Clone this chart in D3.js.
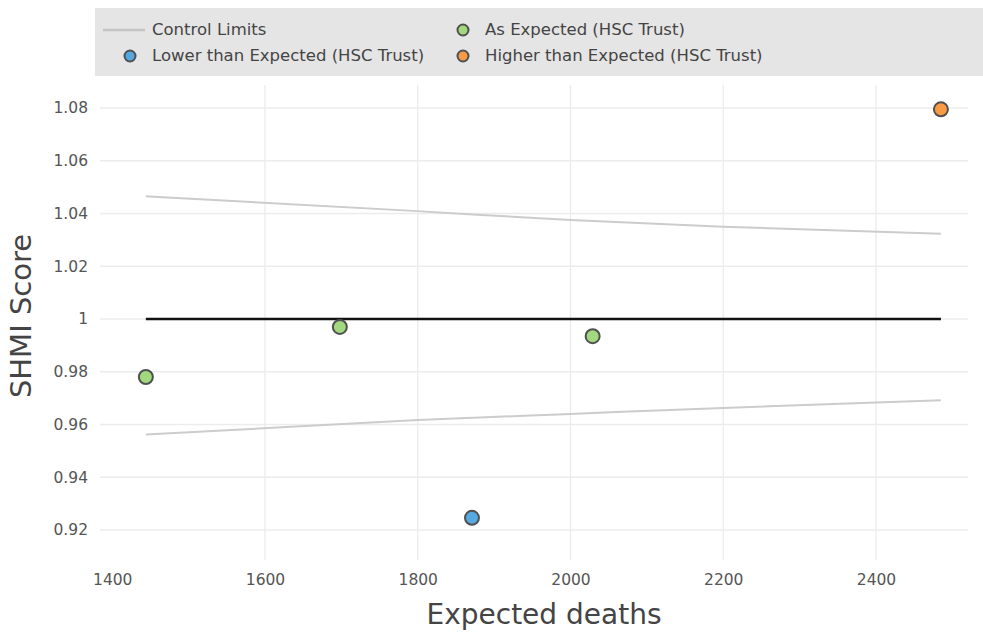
<!DOCTYPE html>
<html>
<head>
<meta charset="utf-8">
<style>
    body { margin: 0; background: #fff; }
    text { font-family: "DejaVu Sans", Verdana, sans-serif; fill: #444; }
    .tick text { font-size: 15.5px; fill: #555; }
    .grid line { stroke: #ececec; stroke-width: 1.3; }
    .legend text { font-size: 16.5px; fill: #444; }
</style>
<script src="https://d3js.org/d3.v7.min.js"></script>
</head>
<body>
<svg width="983" height="634"></svg>
<script>
// trust points
var expected = [1444, 1698, 1871, 2029, 2485];
var shmi = [0.978, 0.997, 0.9246, 0.9935, 1.0795];
var category = ["As", "As", "Lower", "As", "Higher"];

// control limits
var limitX = [1444, 1800, 2000, 2200, 2485];
var upperLimit = [1.0465, 1.0409, 1.0375, 1.035, 1.0323];
var lowerLimit = [0.9562, 0.9617, 0.9640, 0.9663, 0.9692];
var target = 1;

var xTicks = [1400, 1600, 1800, 2000, 2200, 2400];
var yTicks = [0.92, 0.94, 0.96, 0.98, 1, 1.02, 1.04, 1.06, 1.08];

var legendItems = [
    { key: "line", label: "Control Limits" },
    { key: "As", label: "As Expected (HSC Trust)" },
    { key: "Lower", label: "Lower than Expected (HSC Trust)" },
    { key: "Higher", label: "Higher than Expected (HSC Trust)" }
];

var colors = { As: "#a3d97e", Lower: "#55a8e0", Higher: "#f99a45" };

var svg = d3.select("svg");

var x = d3.scaleLinear().domain([1400, 2400]).range([112.25, 876]);
var y = d3.scaleLinear().domain([0.92, 1.08]).range([530, 108]);

var left = 100, right = 968;

// grid
var grid = svg.append("g").attr("class", "grid");
grid.selectAll(".h").data(yTicks).enter().append("line")
    .attr("x1", left).attr("x2", right)
    .attr("y1", function (d) { return y(d); })
    .attr("y2", function (d) { return y(d); });
grid.selectAll(".v").data(xTicks.slice(1)).enter().append("line")
    .attr("x1", function (d) { return x(d); })
    .attr("x2", function (d) { return x(d); })
    .attr("y1", 85).attr("y2", 560);

// axes (labels only)
var yAxis = svg.append("g")
    .attr("transform", "translate(" + left + ",0)")
    .call(d3.axisLeft(y).tickValues(yTicks).tickSize(0).tickPadding(12)
        .tickFormat(function (d) { return String(+d.toFixed(2)); }));
yAxis.select(".domain").remove();

var xAxis = svg.append("g")
    .attr("transform", "translate(0,571)")
    .call(d3.axisBottom(x).tickValues(xTicks).tickSize(0).tickPadding(3)
        .tickFormat(d3.format("d")));
xAxis.select(".domain").remove();

// control limits
var line = d3.line()
    .x(function (d) { return x(d[0]); })
    .y(function (d) { return y(d[1]); })
    .curve(d3.curveMonotoneX);

svg.append("path")
    .datum(d3.zip(limitX, upperLimit))
    .attr("d", line)
    .attr("fill", "none").attr("stroke", "#cccccc").attr("stroke-width", 2);
svg.append("path")
    .datum(d3.zip(limitX, lowerLimit))
    .attr("d", line)
    .attr("fill", "none").attr("stroke", "#cccccc").attr("stroke-width", 2);

svg.append("line")
    .attr("x1", x(limitX[0])).attr("x2", x(limitX[limitX.length - 1]))
    .attr("y1", y(target)).attr("y2", y(target))
    .attr("stroke", "#111").attr("stroke-width", 2.6);

// points
svg.selectAll(".pt")
    .data(d3.range(expected.length))
    .enter().append("circle")
    .attr("cx", function (i) { return x(expected[i]); })
    .attr("cy", function (i) { return y(shmi[i]); })
    .attr("r", 7)
    .attr("fill", function (i) { return colors[category[i]]; })
    .attr("stroke", "#505050")
    .attr("stroke-width", 2);

// axis titles
svg.append("text")
    .attr("transform", "translate(31,316) rotate(-90)")
    .attr("text-anchor", "middle")
    .style("font-size", "29px").style("fill", "#444")
    .text("SHMI Score");
svg.append("text")
    .attr("x", 544).attr("y", 624)
    .attr("text-anchor", "middle")
    .style("font-size", "28px").style("fill", "#444")
    .text("Expected deaths");

// legend
var legend = svg.append("g").attr("class", "legend");
legend.append("rect")
    .attr("x", 95).attr("y", 8).attr("width", 888).attr("height", 68)
    .attr("fill", "#e5e5e5");

var pos = [[0, 30], [1, 30], [0, 56], [1, 56]];
var colX = [130, 463];
legendItems.forEach(function (d, i) {
    var cx = colX[pos[i][0]], cy = pos[i][1];
    if (d.key === "line") {
        legend.append("line")
            .attr("x1", cx - 27).attr("x2", cx + 15)
            .attr("y1", cy).attr("y2", cy)
            .attr("stroke", "#c4c4c4").attr("stroke-width", 2.5);
    } else {
        legend.append("circle")
            .attr("cx", cx).attr("cy", cy).attr("r", 5.5)
            .attr("fill", colors[d.key])
            .attr("stroke", "#505050").attr("stroke-width", 2);
    }
    legend.append("text")
        .attr("x", cx + 22).attr("y", cy + 5)
        .text(d.label);
});
</script>
</body>
</html>
